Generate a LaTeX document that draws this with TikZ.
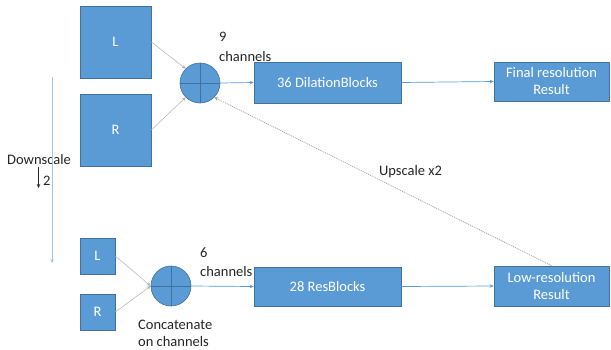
\documentclass[tikz,border=0pt]{standalone}
\usepackage{fontspec}
\setmainfont{Carlito}
\usetikzlibrary{arrows.meta}
\definecolor{boxblue}{HTML}{5B9BD5}
\definecolor{boxedge}{HTML}{41719C}
\definecolor{txt}{HTML}{262626}
\definecolor{paleline}{HTML}{A9C4DE}
\begin{document}
\begin{tikzpicture}[x=1pt,y=-1pt,
  every node/.style={font=\fontsize{14.5}{17}\selectfont, inner sep=0pt},
  blk/.style={draw=boxedge, line width=0.6pt, fill=boxblue, text=white, align=center},
  sumc/.style={circle, draw=boxedge, line width=0.6pt, fill=boxblue, minimum size=40pt},
  lbl/.style={text=txt, align=left},
  tip/.style={-{Stealth[length=4pt,width=3.5pt]}},
  grayarrow/.style={tip, draw=gray!60, line width=0.5pt},
  bluearrow/.style={tip, draw=boxblue, line width=0.7pt},
]
\useasboundingbox (0,0) rectangle (611,349);
\fill[white] (0,0) rectangle (611,349);

% top row
\node[blk, minimum width=71pt, minimum height=72pt] (Ltop) at (115.5,42) {L};
\node[blk, minimum width=71pt, minimum height=72pt] (Rtop) at (115.5,130) {R};
\node[sumc] (ctop) at (200,83) {};
\draw[boxedge, line width=0.6pt] (ctop.north) -- (ctop.south) (ctop.west) -- (ctop.east);
\node[blk, minimum width=147pt, minimum height=41pt] (dil) at (327.5,82.5) {36 DilationBlocks};
\node[blk, minimum width=115pt, minimum height=39pt] (final) at (551.5,81.5) {Final resolution\\Result};

% bottom row
\node[blk, minimum width=35pt, minimum height=36pt] (Lbot) at (97.5,256) {L};
\node[blk, minimum width=35pt, minimum height=36pt] (Rbot) at (97.5,312) {R};
\node[sumc] (cbot) at (171,286) {};
\draw[boxedge, line width=0.6pt] (cbot.north) -- (cbot.south) (cbot.west) -- (cbot.east);
\node[blk, minimum width=147pt, minimum height=39pt] (res) at (327.5,286.5) {28 ResBlocks};
\node[blk, minimum width=115pt, minimum height=40pt] (low) at (551.5,286) {Low-resolution\\Result};

% labels
\node[lbl, anchor=west, font=\fontsize{14.5}{20}\selectfont] (l9) at (219,47) {9\\channels};
\node[lbl, anchor=west, font=\fontsize{14.5}{19}\selectfont] (l6) at (200,262.5) {6\\channels};
\node[lbl, anchor=west] (lcat) at (138,333.5) {Concatenate\\on channels};
\node[lbl, anchor=west] (ldown) at (7,160) {Downscale};
\node[lbl, anchor=west] (ltwo) at (43,181) {2};
\node[lbl] (lup) at (410.5,172) {Upscale x2};

% connectors
\draw[grayarrow] (Ltop.east) -- (ctop.north west);
\draw[grayarrow] (Rtop.east) -- (ctop.south west);
\draw[bluearrow] (ctop.east) -- (dil.west);
\draw[bluearrow] (dil.east) -- (final.west);

\draw[grayarrow] (Lbot.east) -- (cbot.west);
\draw[grayarrow] (Rbot.east) -- (cbot.west);
\draw[bluearrow] (cbot.east) -- (res.west);
\draw[bluearrow] (res.east) -- (low.west);

\draw[tip, draw=gray!80, line width=0.7pt, dash pattern=on 1pt off 1pt] (low.north) -- (ctop.south east);

\coordinate (dtop) at (52,77);
\coordinate (dbot) at (52,263);
\draw[tip, draw=paleline, line width=0.8pt] (dtop) -- (dbot);
\coordinate (atop) at (38.5,167);
\coordinate (abot) at (38.5,188);
\draw[-{Stealth[length=4pt,width=3.5pt]}, draw=txt, line width=0.7pt] (atop) -- (abot);
\end{tikzpicture}
\end{document}
